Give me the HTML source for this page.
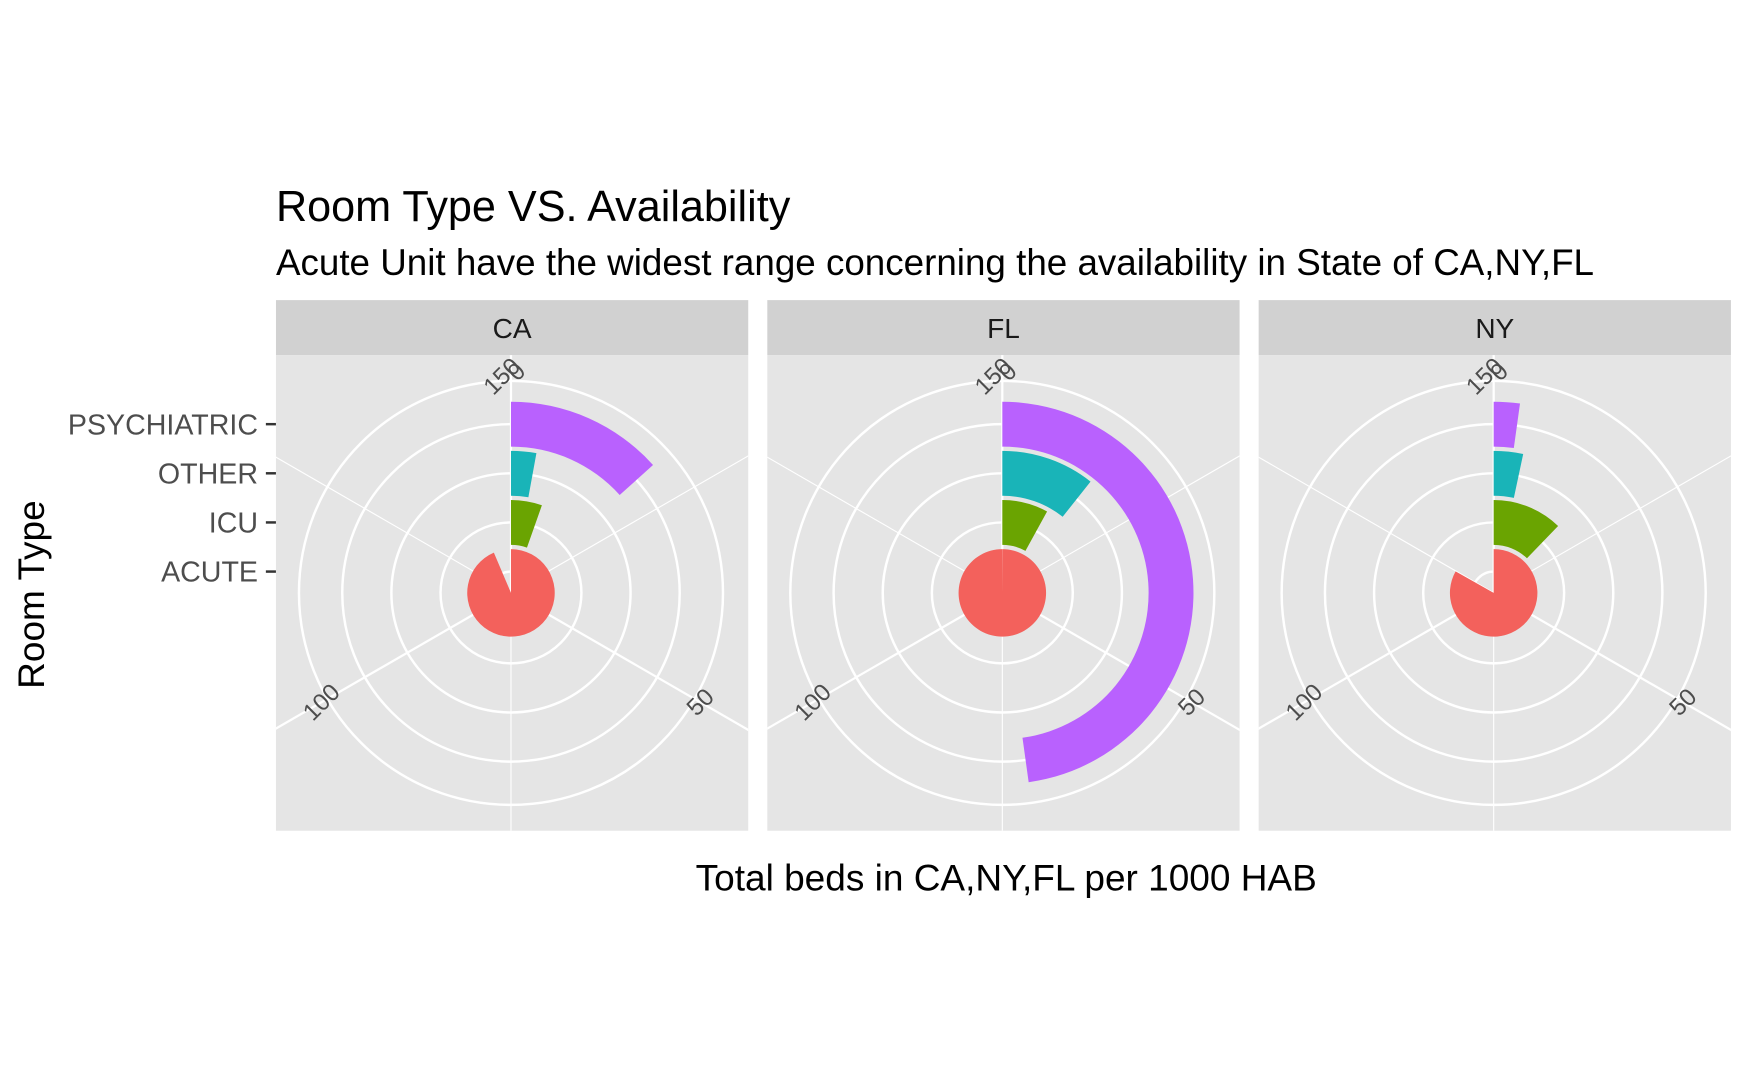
<!DOCTYPE html>
<html><head><meta charset="utf-8"><style>
html,body{margin:0;padding:0;background:#fff;}
svg{display:block;font-family:"Liberation Sans",Arial,sans-serif;}
</style></head><body>
<svg id="chart" width="1750" height="1081" viewBox="0 0 1560 963.6" xmlns="http://www.w3.org/2000/svg">
<defs id="defs"></defs>
<rect x="0" y="0" width="1560" height="963.6" fill="#fff"/>
<text x="246" y="197" font-size="38.5" fill="#000">Room Type VS. Availability</text>
<text x="246" y="245" font-size="32.8" fill="#000">Acute Unit  have the widest range concerning the availability in State of CA,NY,FL</text>
<text x="897" y="794" font-size="33" text-anchor="middle" fill="#000">Total beds in CA,NY,FL per 1000 HAB</text>
<text transform="translate(39,530) rotate(-90)" font-size="33" text-anchor="middle" fill="#000">Room Type</text>
<g id="yaxis"></g>
<g id="panels"></g>
</svg>
<script>
const states = ["CA", "FL", "NY"];
const roomTypes = ["ACUTE", "ICU", "OTHER", "PSYCHIATRIC"];
const acuteVals = [140.4, 149.9, 124.8];
const icuVals = [8.1, 12, 18.3];
const otherVals = [4.3, 16, 5];
const psychVals = [20, 71.7, 3.3];
const thetaTicks = ["0", "50", "100", "150"];
const thetaTickVals = [0, 50, 100, 150];
const fills = ["#F3615C", "#6AA401", "#19B4B8", "#B961FE"];

const NS = "http://www.w3.org/2000/svg";
const panelsG = document.getElementById("panels");
const yaxisG = document.getElementById("yaxis");
const defs = document.getElementById("defs");
const panelX = [246, 684, 1122], panelW = 421;
const stripTop = 267.5, stripBot = 316.5, panelBot = 740.5;
const cy = 528.5, THETA_MAX = 150, R_OUT = 189;
function mk(tag, attrs, parent) { const e = document.createElementNS(NS, tag); for (const k in attrs) e.setAttribute(k, attrs[k]); parent.appendChild(e); return e; }
function ang(v) { return v / THETA_MAX * 2 * Math.PI; }
function pt(cx, r, v) { const a = ang(v); return [cx + r * Math.sin(a), cy - r * Math.cos(a)]; }
function rCenter(i) { return 19 + 43.8 * i; }
function sector(cx, r0, r1, v) {
  const large = ang(v) > Math.PI ? 1 : 0;
  const [x1, y1] = pt(cx, r1, 0), [x2, y2] = pt(cx, r1, v);
  if (r0 <= 0) return `M${cx},${cy}L${x1},${y1}A${r1},${r1} 0 ${large} 1 ${x2},${y2}Z`;
  const [x3, y3] = pt(cx, r0, v), [x4, y4] = pt(cx, r0, 0);
  return `M${x1},${y1}A${r1},${r1} 0 ${large} 1 ${x2},${y2}L${x3},${y3}A${r0},${r0} 0 ${large} 0 ${x4},${y4}Z`;
}
const series = [acuteVals, icuVals, otherVals, psychVals];

states.forEach((st, p) => {
  const px = panelX[p], cx = px + panelW / 2 - 1;
  const cp = mk("clipPath", { id: "clip" + p }, defs);
  mk("rect", { x: px, y: stripBot, width: panelW, height: panelBot - stripBot }, cp);
  const g = mk("g", {}, panelsG);
  
  
  const strip = mk("rect", { x: px, y: stripTop, width: panelW, height: stripBot - stripTop, fill: "#D1D1D1" }, g);
  
  
  const st_t = mk("text", { x: px + panelW / 2, y: stripTop + 34, "font-size": 25, "text-anchor": "middle", fill: "#1a1a1a" }, g);
  st_t.textContent = st;
  
  
  mk("rect", { x: px, y: stripBot, width: panelW, height: panelBot - stripBot, fill: "#E5E5E5" }, g);
  const gc = mk("g", { "clip-path": `url(#clip${p})` }, g);
  [25, 75, 125].forEach(v => { const [x, y] = pt(cx, 400, v); mk("line", { x1: cx, y1: cy, x2: x, y2: y, stroke: "#fff", "stroke-width": 1 }, gc); });
  thetaTickVals.slice(0, 3).forEach(v => { const [x, y] = pt(cx, 400, v); mk("line", { x1: cx, y1: cy, x2: x, y2: y, stroke: "#fff", "stroke-width": 2 }, gc); });
  roomTypes.forEach((rt, i) => mk("circle", { cx: cx, cy: cy, r: rCenter(i), fill: "none", stroke: "#fff", "stroke-width": 2.2 }, g));
  mk("circle", { cx: cx, cy: cy, r: R_OUT, fill: "none", stroke: "#fff", "stroke-width": 2.2 }, g);
  series.forEach((vals, i) => {
    const r0 = Math.max(0, rCenter(i) - 20), r1 = rCenter(i) + 20;
    const path = mk("path", { d: sector(cx, r0, r1, Math.min(vals[p], 149.99)), fill: fills[i] }, g);
    
    
  });
  thetaTickVals.forEach((v, k) => {
    let [x, y] = pt(cx, R_OUT + 6, v);
    if (k === 3) { x -= 8; y += 2; }
    if (k === 0) { x += 5; y -= 2; }
    const t = mk("text", { x: x, y: y + 7, "font-size": 21.5, "text-anchor": "middle", fill: "#4d4d4d", transform: `rotate(-45 ${x} ${y})` }, g);
    t.textContent = thetaTicks[k];
    
    
  });
});
roomTypes.forEach((rt, i) => {
  const y = cy - rCenter(i);
  const t = mk("text", { x: 230, y: y + 9, "font-size": 25.5, "text-anchor": "end", fill: "#4d4d4d" }, yaxisG);
  t.textContent = rt;
  
  
  mk("line", { x1: 237, y1: y, x2: 246, y2: y, stroke: "#333", "stroke-width": 2.2 }, yaxisG);
});
</script>
</body></html>
